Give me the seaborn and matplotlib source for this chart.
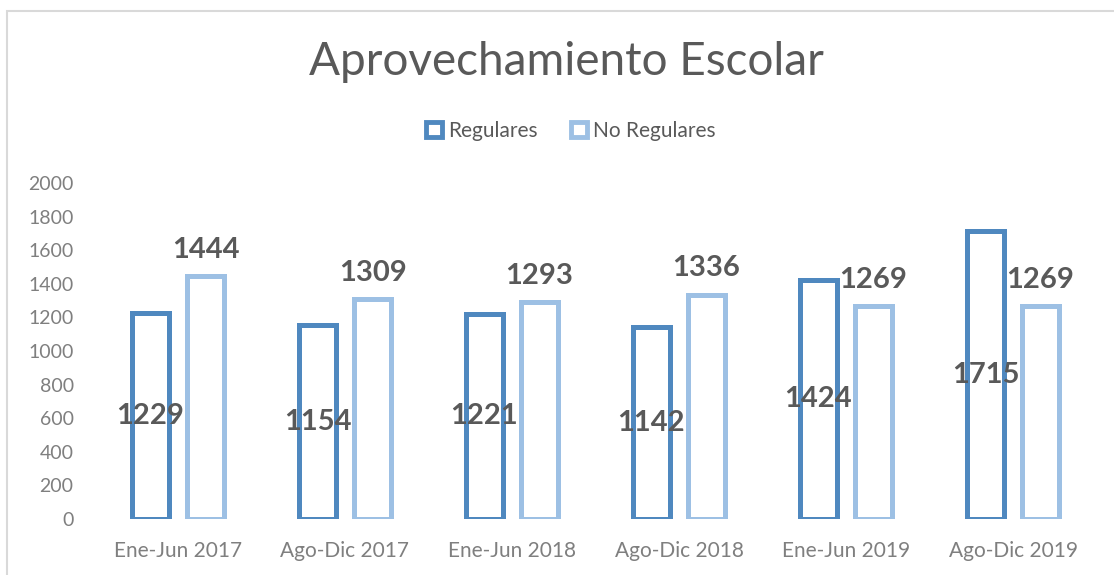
import pandas as pd
import seaborn as sns
import matplotlib.pyplot as plt
from matplotlib.patches import Patch, Rectangle

# Data
periodos = ["Ene-Jun 2017", "Ago-Dic 2017", "Ene-Jun 2018",
            "Ago-Dic 2018", "Ene-Jun 2019", "Ago-Dic 2019"]
regulares = [1229, 1154, 1221, 1142, 1424, 1715]
no_regulares = [1444, 1309, 1293, 1336, 1269, 1269]
series = ["Regulares", "No Regulares"]
colores = ["#4F88BF", "#9DC0E4"]

df = pd.DataFrame({
    "periodo": periodos * 2,
    "valor": regulares + no_regulares,
    "serie": [series[0]] * len(periodos) + [series[1]] * len(periodos),
})

sns.set_style("white")
plt.rcParams["font.family"] = ["Lato", "DejaVu Sans"]

fig = plt.figure(figsize=(11.14, 5.75), dpi=100)
ax = fig.add_axes([0.0848, 0.0974, 0.8995, 0.5843])

sns.barplot(data=df, x="periodo", y="valor", hue="serie", order=periodos,
            hue_order=series, palette=colores, fill=False, width=0.66,
            gap=0.333, linewidth=3.6, legend=False, errorbar=None, ax=ax)

# data labels
ax.bar_label(ax.containers[0], label_type="center", fontsize=21,
             fontweight="bold", color="#595959")
ax.bar_label(ax.containers[1], padding=9.5, fontsize=21,
             fontweight="bold", color="#595959")

ax.set_ylim(0, 2000)
ax.set_yticks(range(0, 2001, 200))
ax.set_xlim(-0.5, 5.5)
ax.set_xlabel("")
ax.set_ylabel("")
ax.tick_params(axis="both", length=0, colors="#7F7F7F")
ax.tick_params(axis="x", labelsize=15, pad=16)
ax.tick_params(axis="y", labelsize=14, pad=15)
for s in ax.spines.values():
    s.set_visible(False)

fig.text(566 / 1114, 1 - 62 / 575, "Aprovechamiento Escolar", ha="center",
         va="center", fontsize=33, color="#595959")

handles = [Patch(facecolor="white", edgecolor=c, linewidth=3.5) for c in colores]
fig.legend(handles, series, loc="center", bbox_to_anchor=(571 / 1114, 1 - 131 / 575),
           ncol=2, frameon=False, fontsize=15, labelcolor="#595959",
           handlelength=0.75, handleheight=0.75, handletextpad=0.3,
           columnspacing=1.6)

# chart border
fig.patches.append(Rectangle((7 / 1114, -0.1), 1.2, 1 - 11 / 575 + 0.1,
                             transform=fig.transFigure, fill=False,
                             edgecolor="#D9D9D9", linewidth=1.5))

fig.savefig("out.png", dpi=100)
